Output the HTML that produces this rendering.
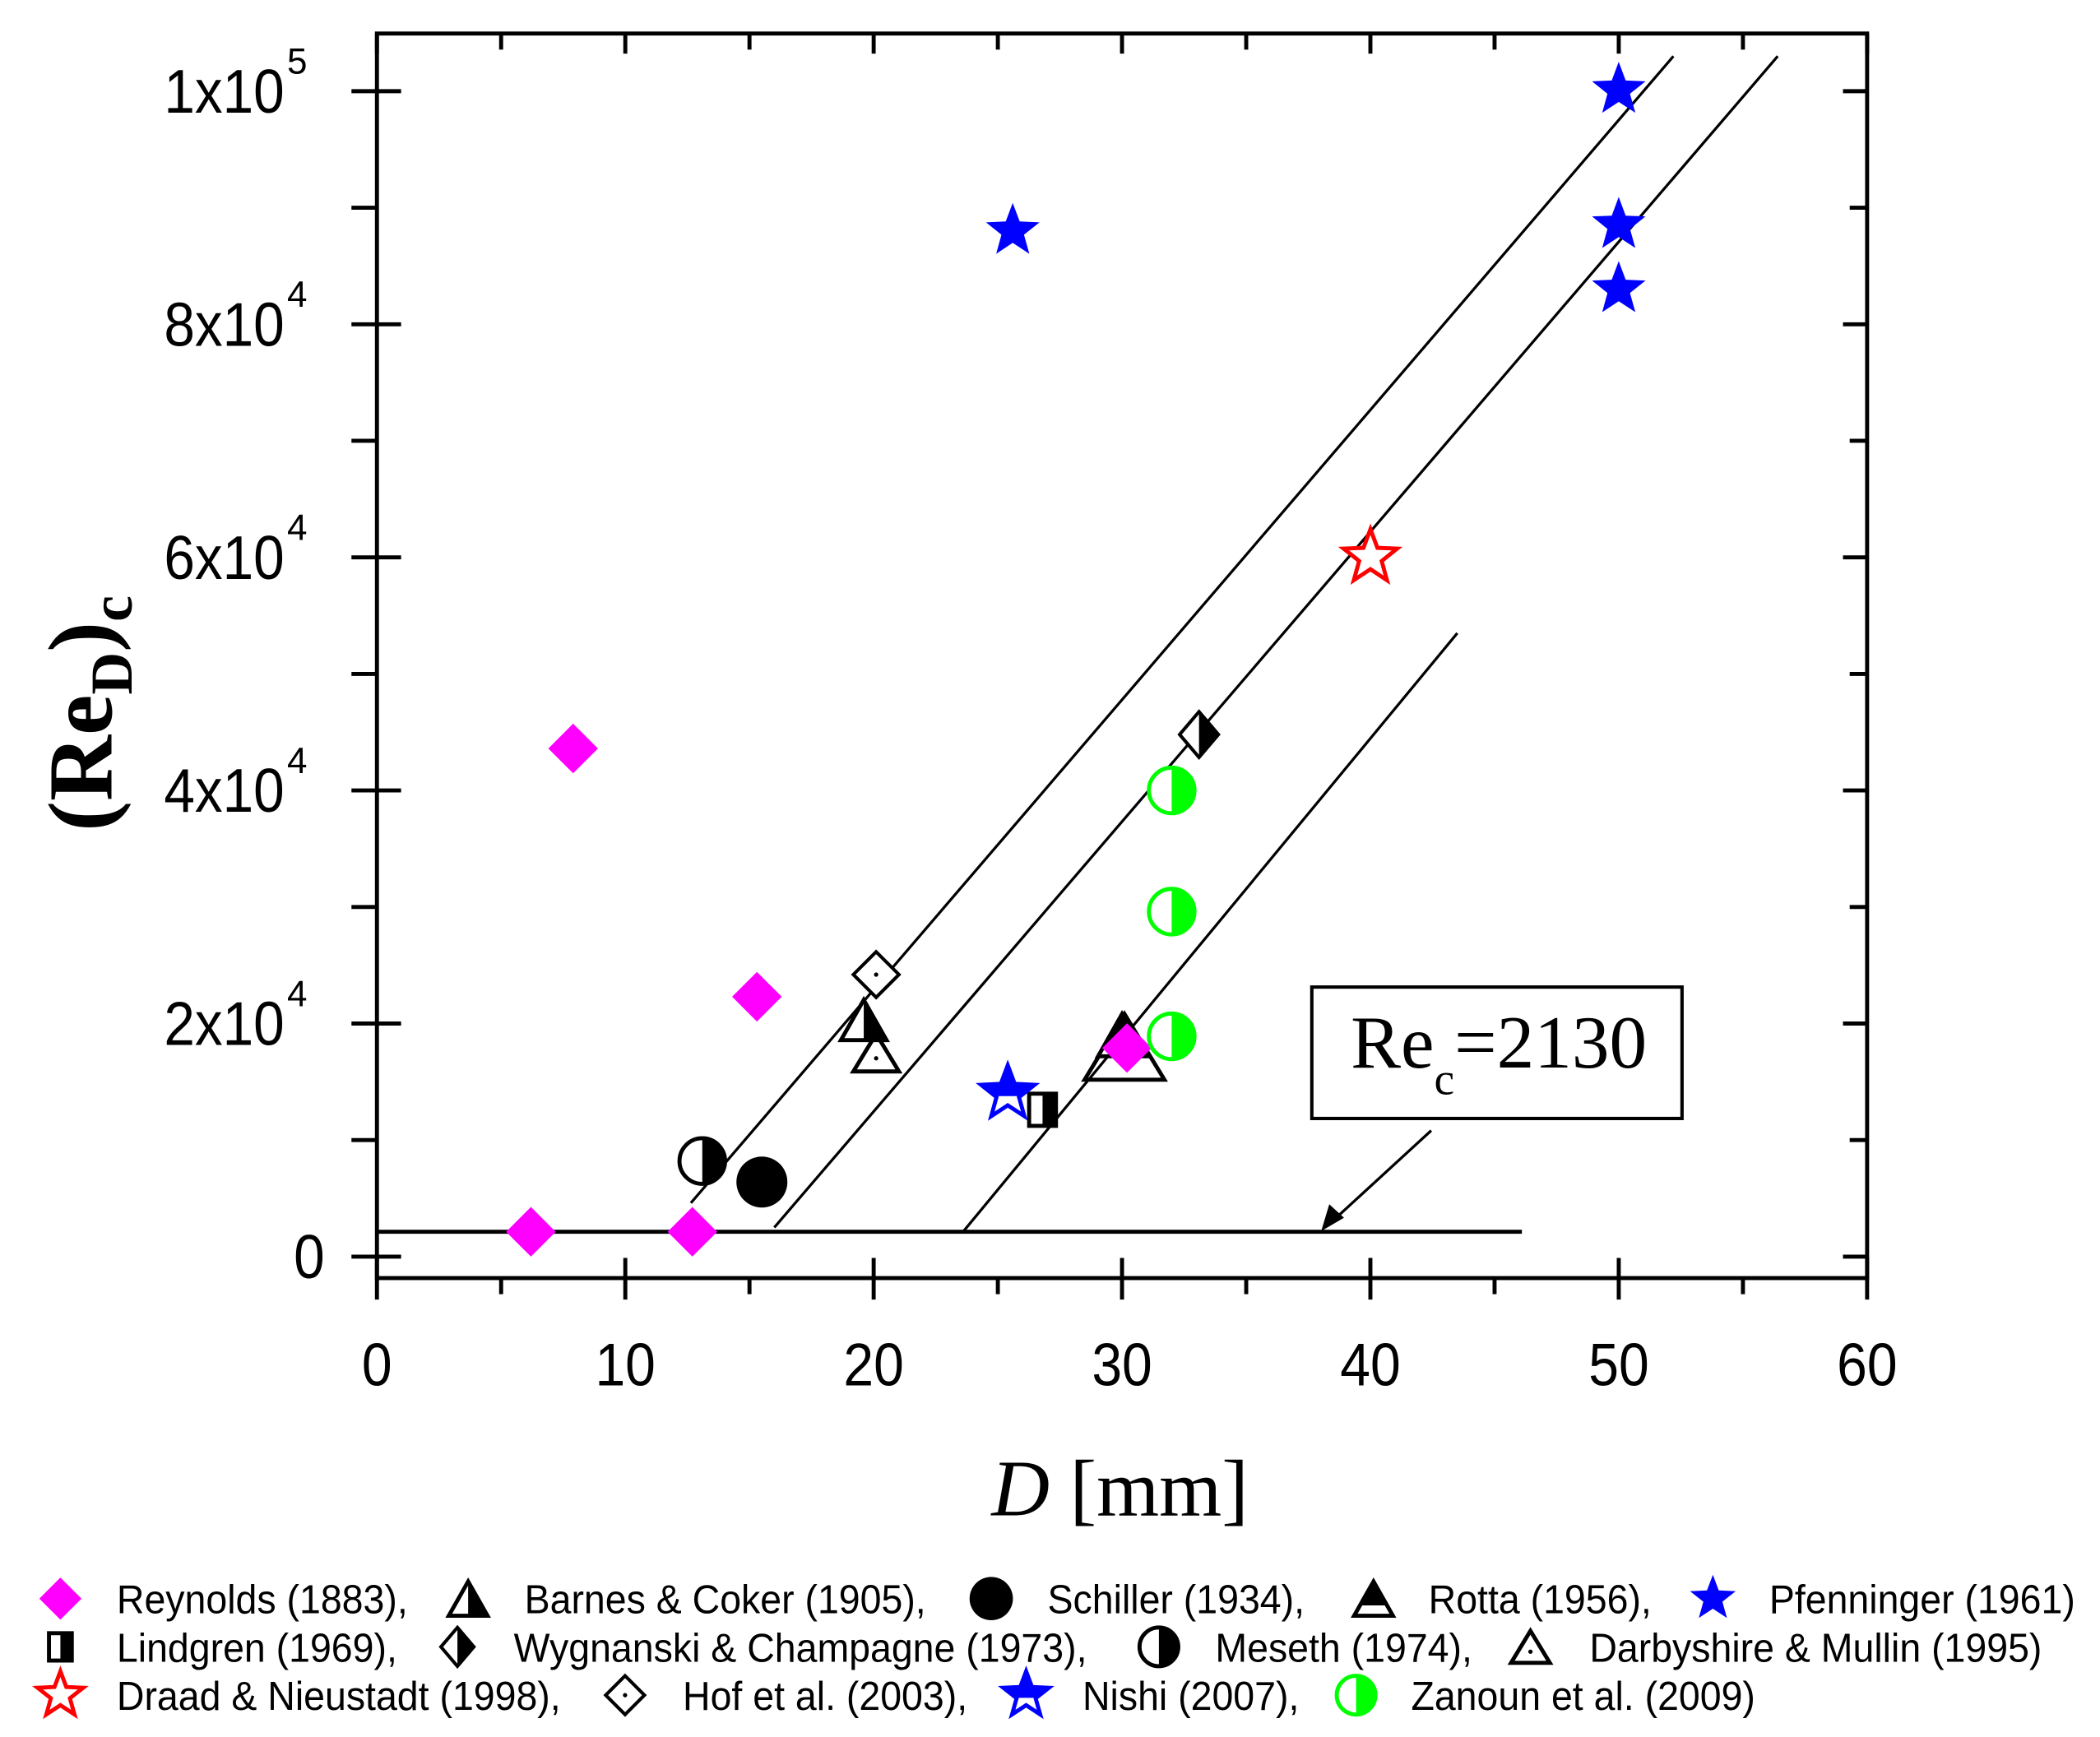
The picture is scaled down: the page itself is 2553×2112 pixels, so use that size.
<!DOCTYPE html>
<html><head><meta charset="utf-8"><style>
html,body{margin:0;padding:0;background:#fff;}
svg{display:block;}
</style></head><body>
<svg id="chart" width="2553" height="2112" viewBox="1 0 1565.6 1295.2" xmlns="http://www.w3.org/2000/svg">
<rect x="-10" y="-10" width="1600" height="1320" fill="#fff"/>
<g id="plot"></g>
<g id="legend"></g>
</svg>
<script>
const xTicks = [0,10,20,30,40,50,60];
const yTicks = [0,20000,40000,60000,80000,100000];
const yTickLabels = [["0",""],["2x10","4"],["4x10","4"],["6x10","4"],["8x10","4"],["1x10","5"]];
const reynoldsX = [6.2,7.9,12.7,15.3,30.2];
const reynoldsY = [2130,43600,2130,22300,17900];
const barnesX=[19.6], barnesY=[20300];
const schillerX=[15.5], schillerY=[6400];
const rottaX=[30.0], rottaY=[19000];
const pfenX=[25.6,50,50,50], pfenY=[88000,100100,88500,83000];
const lindX=[26.8], lindY=[12600];
const wygX=[33.1], wygY=[44800];
const mesethX=[13.1], mesethY=[8200];
const darbyX=[20.1,30.1], darbyY=[17500,18000];
const draadX=[40], draadY=[60000];
const hofX=[20.1], hofY=[24200];
const nishiX=[25.4], nishiY=[14000];
const zanounX=[32,32,32], zanounY=[40000,29600,18900];
const lineA = [[12.64,4600],[52.2,103000]];
const lineB = [[16.0,2500],[56.4,103000]];
const lineC = [[23.6,2130],[43.5,53500]];
const recLine = [[0,2130],[46.1,2130]];

const NS="http://www.w3.org/2000/svg";
const X0=282,X1=1393,Y0=937,YPER=869/100000;
function sx(v){return X0+v*(X1-X0)/60;}
function sy(v){return Y0-v*YPER;}
const plot=document.getElementById('plot');
const legend=document.getElementById('legend');
function el(tag,attrs,parent){const e=document.createElementNS(NS,tag);for(const k in attrs)e.setAttribute(k,attrs[k]);(parent||plot).appendChild(e);return e;}

const frame=el('rect',{x:282,y:25,width:1111,height:928,fill:'none',stroke:'#000','stroke-width':3});


for(let i=0;i<=12;i++){const v=i*5,x=sx(v);
 if(i%2===0){el('line',{x1:x,y1:938,x2:x,y2:969,stroke:'#000','stroke-width':3});el('line',{x1:x,y1:25,x2:x,y2:40,stroke:'#000','stroke-width':3});}
 else{el('line',{x1:x,y1:953,x2:x,y2:965,stroke:'#000','stroke-width':3});el('line',{x1:x,y1:25,x2:x,y2:37,stroke:'#000','stroke-width':3});}
}
xTicks.forEach(v=>{const t=el('text',{x:sx(v),y:1033,'font-family':'Liberation Sans, sans-serif','font-size':45,'text-anchor':'middle',transform:`translate(${sx(v)},0) scale(0.9,1) translate(${-sx(v)},0)`});t.textContent=v;

});
for(let i=0;i<=10;i++){const v=i*10000,y=sy(v);
 if(i%2===0){el('line',{x1:263,y1:y,x2:300,y2:y,stroke:'#000','stroke-width':3});el('line',{x1:1375,y1:y,x2:1393,y2:y,stroke:'#000','stroke-width':3});}
 else{el('line',{x1:263,y1:y,x2:282,y2:y,stroke:'#000','stroke-width':3});el('line',{x1:1380,y1:y,x2:1393,y2:y,stroke:'#000','stroke-width':3});}
}
yTicks.forEach((v,i)=>{const ax=v===0?243:213;const t=el('text',{x:ax,y:sy(v)+16,'font-family':'Liberation Sans, sans-serif','font-size':46,'text-anchor':'end',transform:`translate(${ax},0) scale(0.9,1) translate(${-ax},0)`});


t.textContent=yTickLabels[i][0];
if(yTickLabels[i][1]){const s=el('text',{x:215,y:sy(v)-13,'font-family':'Liberation Sans, sans-serif','font-size':27});s.textContent=yTickLabels[i][1];}});
const xt=el('text',{x:836,y:1130,'font-family':'Liberation Serif, serif','font-size':60,'text-anchor':'middle'});


xt.innerHTML='<tspan font-style="italic">D</tspan> [mm]';
const yt=el('text',{transform:'translate(84,532) rotate(-90)','font-family':'Liberation Serif, serif','font-size':68,'font-weight':'bold','text-anchor':'middle'});


yt.innerHTML='(Re<tspan font-size="44" dy="15">D</tspan><tspan dy="-15">)</tspan><tspan font-size="44" dy="15">c</tspan>';
[lineA,lineB,lineC,recLine].forEach((L,i)=>{const l=el('line',{x1:sx(L[0][0]),y1:sy(L[0][1]),x2:sx(L[1][0]),y2:sy(L[1][1]),stroke:'#000','stroke-width':i===3?3:2});

});
const box=el('rect',{x:979,y:736,width:276,height:98,fill:'#fff',stroke:'#000','stroke-width':2.5});


const at=el('text',{x:1008,y:796,'font-family':'Liberation Serif, serif','font-size':56});
at.innerHTML='Re<tspan font-size="34" dy="20">c</tspan><tspan dy="-20">=2130</tspan>';


el('line',{x1:1068,y1:843,x2:995,y2:910,stroke:'#000','stroke-width':2});
el('polygon',{points:'986,918 992,898 1003,908',fill:'#000'});

function starPts(cx,cy,R){const r=R*0.42;let p=[];for(let i=0;i<10;i++){const a=-Math.PI/2+i*Math.PI/5,rr=i%2?r:R;p.push((cx+rr*Math.cos(a)).toFixed(1)+','+(cy+rr*Math.sin(a)).toFixed(1));}return p.join(' ');}
let clipId=0;
function marker(type,cx,cy,g,s){s=s||1;
 if(type==='reynolds'){el('polygon',{points:`${cx},${cy-18.5*s} ${cx+18.5*s},${cy} ${cx},${cy+18.5*s} ${cx-18.5*s},${cy}`,fill:'#f0f'},g);}
 else if(type==='barnes'){const w=17*s,h=15*s;el('polygon',{points:`${cx},${cy-h} ${cx+w},${cy+h} ${cx-w},${cy+h}`,fill:'#fff',stroke:'#000','stroke-width':3},g);
  el('polygon',{points:`${cx},${cy-h} ${cx+w},${cy+h} ${cx},${cy+h}`,fill:'#000'},g);}
 else if(type==='schiller'){el('circle',{cx,cy,r:19*s,fill:'#000'},g);}
 else if(type==='rotta'){const w=17*s,h=15*s;el('polygon',{points:`${cx},${cy-h} ${cx+w},${cy+h} ${cx-w},${cy+h}`,fill:'#fff',stroke:'#000','stroke-width':3},g);
  el('polygon',{points:`${cx},${cy-h} ${cx+w*0.7},${cy+h*0.4} ${cx-w*0.7},${cy+h*0.4}`,fill:'#000'},g);}
 else if(type==='pfen'){el('polygon',{points:starPts(cx,cy,21*s),fill:'#00f'},g);}
 else if(type==='lind'){el('rect',{x:cx-10*s,y:cy-12*s,width:20*s,height:24*s,fill:'#fff',stroke:'#000','stroke-width':3},g);el('rect',{x:cx,y:cy-12*s,width:10*s,height:24*s,fill:'#000'},g);}
 else if(type==='wyg'){const d=17*s;el('polygon',{points:`${cx},${cy-d} ${cx+d*0.85},${cy} ${cx},${cy+d} ${cx-d*0.85},${cy}`,fill:'#fff',stroke:'#000','stroke-width':2.5},g);
  el('polygon',{points:`${cx},${cy-d} ${cx+d*0.85},${cy} ${cx},${cy+d}`,fill:'#000'},g);}
 else if(type==='meseth'){const r=17*s;el('circle',{cx,cy,r,fill:'#fff',stroke:'#000','stroke-width':3},g);el('path',{d:`M${cx},${cy-r} A${r},${r} 0 0 1 ${cx},${cy+r} Z`,fill:'#000'},g);}
 else if(type==='darby'){const w=17*s,h=14*s;el('polygon',{points:`${cx},${cy-h} ${cx+w},${cy+h} ${cx-w},${cy+h}`,fill:'none',stroke:'#000','stroke-width':3},g);el('circle',{cx,cy:cy+h*0.3,r:1.6,fill:'#000'},g);}
 else if(type==='draad'){el('polygon',{points:starPts(cx,cy,21*s),fill:'#fff',stroke:'#f00','stroke-width':3},g);}
 else if(type==='hof'){const d=17*s;el('polygon',{points:`${cx},${cy-d} ${cx+d},${cy} ${cx},${cy+d} ${cx-d},${cy}`,fill:'#fff',stroke:'#000','stroke-width':2.5},g);el('circle',{cx,cy,r:1.6,fill:'#000'},g);}
 else if(type==='nishi'){clipId++;const cp=el('clipPath',{id:'nc'+clipId},g);el('rect',{x:cx-30,y:cy-30,width:60,height:32},cp);
  el('polygon',{points:starPts(cx,cy,21*s),fill:'#fff',stroke:'#00f','stroke-width':3},g);
  el('polygon',{points:starPts(cx,cy,21*s),fill:'#00f','clip-path':`url(#nc${clipId})`},g);}
 else if(type==='zanoun'){const r=17*s;el('circle',{cx,cy,r,fill:'#fff',stroke:'#0f0','stroke-width':3},g);el('path',{d:`M${cx},${cy-r} A${r},${r} 0 0 1 ${cx},${cy+r} Z`,fill:'#0f0'},g);}
}
function series(name,type,xs,ys,size){const g=el('g',{});
 
 
 xs.forEach((x,i)=>marker(type,sx(x),sy(ys[i]),g,Array.isArray(size)?size[i]:size));}
series('darbyshire','darby',darbyX,darbyY,[1,1.75]);
series('rotta','rotta',rottaX,rottaY,1.05);
series('reynolds','reynolds',reynoldsX,reynoldsY,1);
series('barnes-coker','barnes',barnesX,barnesY,1);
series('schiller','schiller',schillerX,schillerY,1);
series('pfenninger','pfen',pfenX,pfenY,1);
series('lindgren','lind',lindX,lindY,1);
series('wygnanski','wyg',wygX,wygY,1);
series('meseth','meseth',mesethX,mesethY,1);
series('draad','draad',draadX,draadY,1);
series('hof','hof',hofX,hofY,1);
series('nishi','nishi',nishiX,nishiY,1);
series('zanoun','zanoun',zanounX,zanounY,1);

const legItems=[
 ['reynolds','Reynolds (1883),',46,88,1193],['barnes','Barnes & Coker (1905),',350,392,1193],['schiller','Schiller (1934),',740,782,1193],['rotta','Rotta (1956),',1025,1066,1193],['pfen','Pfenninger (1961)',1278,1320,1193],
 ['lind','Lindgren (1969),',46,88,1229],['wyg','Wygnanski & Champagne (1973),',342,384,1229],['meseth','Meseth (1974),',865,907,1229],['darby','Darbyshire & Mullin (1995)',1142,1186,1229],
 ['draad','Draad & Nieustadt (1998),',46,88,1265],['hof','Hof et al. (2003),',467,510,1265],['nishi','Nishi (2007),',766,808,1265],['zanoun','Zanoun et al. (2009)',1012,1053,1265]];
legItems.forEach(it=>{const g=el('g',{},legend);
 
 
 marker(it[0],it[2],it[4]-1,g,0.85);
 const t=el('text',{x:it[3],y:it[4]+10,'font-family':'Liberation Sans, sans-serif','font-size':30,transform:`translate(${it[3]},0) scale(0.95,1) translate(${-it[3]},0)`},g);t.textContent=it[1];});
</script>
</body></html>
